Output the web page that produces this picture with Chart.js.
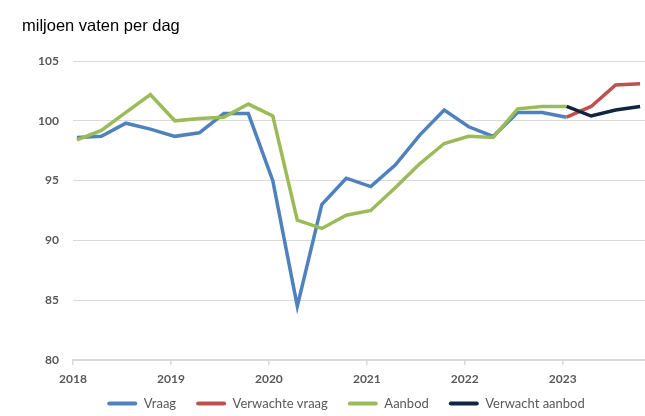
<!DOCTYPE html>
<html>
<head>
<meta charset="utf-8">
<script src="https://cdn.jsdelivr.net/npm/chart.js@4"></script>
<style>
  html, body { margin: 0; padding: 0; background: #fff; }
  #wrap { position: relative; width: 645px; height: 416px; }
  #sub { position: absolute; left: 22px; top: 16px; font: 16.5px "Liberation Sans", Arial, sans-serif; color: #000; }
  canvas { position: absolute; left: 0; top: 0; }
</style>
</head>
<body>
<div id="wrap">
  <canvas id="oilChart" width="645" height="416"></canvas>
  <div id="sub">miljoen vaten per dag</div>
</div>
<script>
// quarters 2018 Q1 .. 2023 Q4
const quarters = ['2018Q1','2018Q2','2018Q3','2018Q4','2019Q1','2019Q2','2019Q3','2019Q4',
                  '2020Q1','2020Q2','2020Q3','2020Q4','2021Q1','2021Q2','2021Q3','2021Q4',
                  '2022Q1','2022Q2','2022Q3','2022Q4','2023Q1','2023Q2','2023Q3','2023Q4'];
const yearTicks = [2018, 2019, 2020, 2021, 2022, 2023];

const vraag = [98.6, 98.7, 99.8, 99.3, 98.7, 99.0, 100.6, 100.6,
               95.0, 84.5, 93.0, 95.2, 94.5, 96.3, 98.8, 100.9,
               99.5, 98.7, 100.7, 100.7, 100.3, null, null, null];
const verwachteVraag = [null, null, null, null, null, null, null, null,
                        null, null, null, null, null, null, null, null,
                        null, null, null, null, 100.3, 101.2, 103.0, 103.1];
const aanbod = [98.4, 99.2, 100.7, 102.2, 100.0, 100.2, 100.3, 101.4,
                100.4, 91.7, 91.0, 92.1, 92.5, 94.4, 96.4, 98.1,
                98.7, 98.6, 101.0, 101.2, 101.2, null, null, null];
const verwachtAanbod = [null, null, null, null, null, null, null, null,
                        null, null, null, null, null, null, null, null,
                        null, null, null, null, 101.2, 100.4, 100.9, 101.2];

// each point sits about half a month into its quarter
function toPoints(values) {
    const pts = [];
    values.forEach((v, i) => {
        if (v === null) return;
        const year = parseInt(quarters[i].slice(0, 4));
        const q = parseInt(quarters[i].slice(5));
        pts.push({ x: year + (q - 1) / 4 + 0.04, y: v });
    });
    return pts;
}

const grey = '#595959';
const tickFont = { family: 'Lato, "Open Sans", sans-serif', size: 12, weight: 'bold' };

function line(label, values, color, order) {
    return {
        label: label,
        data: toPoints(values),
        borderColor: color,
        backgroundColor: color,
        borderWidth: 3.5,
        pointRadius: 0,
        tension: 0,
        order: order
    };
}

// legend in the original sits right of the canvas middle and low on the page
const placeLegend = {
    id: 'placeLegend',
    afterLayout(chart) {
        const lg = chart.legend;
        if (!lg) return;
        lg.left = 47;
        lg.top = 377;
    }
};

new Chart(document.getElementById('oilChart').getContext('2d'), {
    type: 'line',
    data: {
        datasets: [
            line('Vraag', vraag, '#4F81BD', 3),
            line('Verwachte vraag', verwachteVraag, '#C0504D', 2),
            line('Aanbod', aanbod, '#9BBB59', 1),
            line('Verwacht aanbod', verwachtAanbod, '#10253F', 0)
        ]
    },
    plugins: [placeLegend],
    options: {
        responsive: false,
        animation: false,
        layout: { padding: { top: 61, left: 0, right: 0, bottom: 0 } },
        scales: {
            x: {
                type: 'linear',
                min: 2018,
                max: 2023.84,
                afterBuildTicks: scale => { scale.ticks = yearTicks.map(v => ({ value: v })); },
                afterFit: scale => { scale.height = 31; },
                grid: { drawOnChartArea: false, drawTicks: true, tickLength: 5, color: '#d9d9d9', lineWidth: 1.5 },
                border: { color: '#d9d9d9', width: 1.5 },
                ticks: { color: grey, font: tickFont, padding: 7, maxRotation: 0, callback: v => String(v) }
            },
            y: {
                min: 80,
                max: 105,
                afterFit: scale => { scale.width = 73; },
                grid: { color: '#d9d9d9', lineWidth: 1, drawTicks: false },
                border: { display: false },
                ticks: { stepSize: 5, color: grey, font: tickFont, padding: 14 }
            }
        },
        plugins: {
            legend: {
                position: 'bottom',
                maxHeight: 25,
                labels: {
                    boxWidth: 30,
                    boxHeight: 4,
                    padding: 20,
                    color: grey,
                    font: { family: 'Lato, "Open Sans", sans-serif', size: 13 },
                    sort: (a, b) => a.datasetIndex - b.datasetIndex,
                    generateLabels: chart => Chart.defaults.plugins.legend.labels.generateLabels(chart)
                        .map(item => Object.assign(item, { lineWidth: 0, borderRadius: 2 }))
                }
            },
            tooltip: { enabled: false }
        }
    }
});
</script>
</body>
</html>
